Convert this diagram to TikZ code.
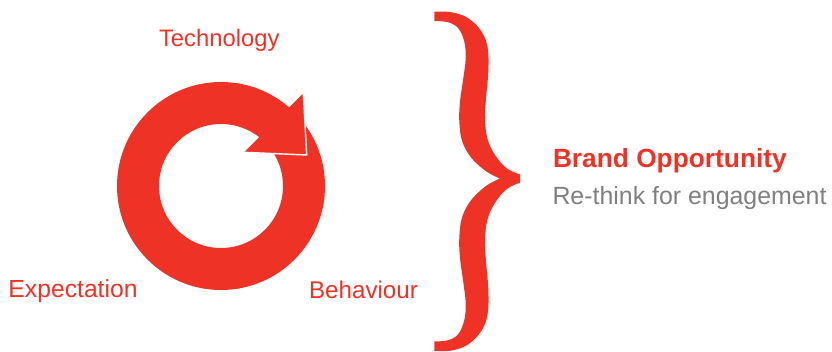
\documentclass[tikz,border=0pt]{standalone}
\usepackage{fontspec}
\setmainfont{Liberation Sans}
\definecolor{brandred}{HTML}{EE3226}
\definecolor{textgray}{HTML}{7F7F7F}
\begin{document}
\begin{tikzpicture}[x=1pt,y=-1pt,
  lbl/.style={anchor=base west,inner sep=0pt,outer sep=0pt,text=brandred},
  sub/.style={anchor=base west,inner sep=0pt,outer sep=0pt,text=textgray}]
\useasboundingbox (0,0) rectangle (832,352);
% ring
\fill[brandred,even odd rule] (221,186) circle (104) (221,186) circle (62);
% arrow head
\coordinate (ha) at (303.3,93.3);
\coordinate (hb) at (306.7,155);
\coordinate (hc) at (244,152.3);
\fill[brandred] (ha) -- (hb) -- (hc) -- cycle;
\draw[white,line width=1.4pt,line join=miter] (ha) -- (hb) -- (hc);
% brace
\fill[brandred]
  plot[smooth,tension=0.6] coordinates {(434.3,11.7) (451.7,12.3) (468.3,18.3) (481.7,31.7) (487.7,48.3) (488.3,71.7) (486,98.3) (485,118.3) (487.3,138.3) (495,155) (506.7,168.3) (520,174.5)}
  -- plot[smooth,tension=0.6] coordinates {(520,182.6) (506.7,189.1) (495,202.8) (487.3,220.1) (485,240.8) (486,261.5) (488.3,289) (487.7,313.3) (481.7,330.4) (468.3,344.3) (451.7,350.5) (434.3,351.1)}
  -- plot[smooth,tension=0.6] coordinates {(434.3,341.5) (448.3,340.2) (458.3,334) (464.3,320.1) (465.7,302.9) (463.3,282.2) (460,258) (459.3,237.3) (462.3,216.6) (471.7,199.4) (486.7,185.5) (500,178.5)}
  -- plot[smooth,tension=0.6] coordinates {(500,178.5) (486.7,171.7) (471.7,158.3) (462.3,141.7) (459.3,121.7) (460,101.7) (463.3,78.3) (465.7,58.3) (464.3,41.7) (458.3,28.3) (448.3,22.3) (434.3,21)}
  -- cycle;
% labels
\node[lbl,font=\fontsize{23.8}{27}\selectfont] (tech) at (159,47) {Technology};
\node[lbl,font=\fontsize{24.7}{28}\selectfont] (expe) at (8.5,298) {Expectation};
\node[lbl,font=\fontsize{24.2}{28}\selectfont] (beha) at (309,299) {Behaviour};
\node[lbl,font=\fontsize{26.3}{30}\selectfont\bfseries] (brand) at (553,168) {Brand Opportunity};
\node[sub,font=\fontsize{24.9}{29}\selectfont] (rethink) at (552.5,205) {Re-think for engagement};
\end{tikzpicture}
\end{document}
